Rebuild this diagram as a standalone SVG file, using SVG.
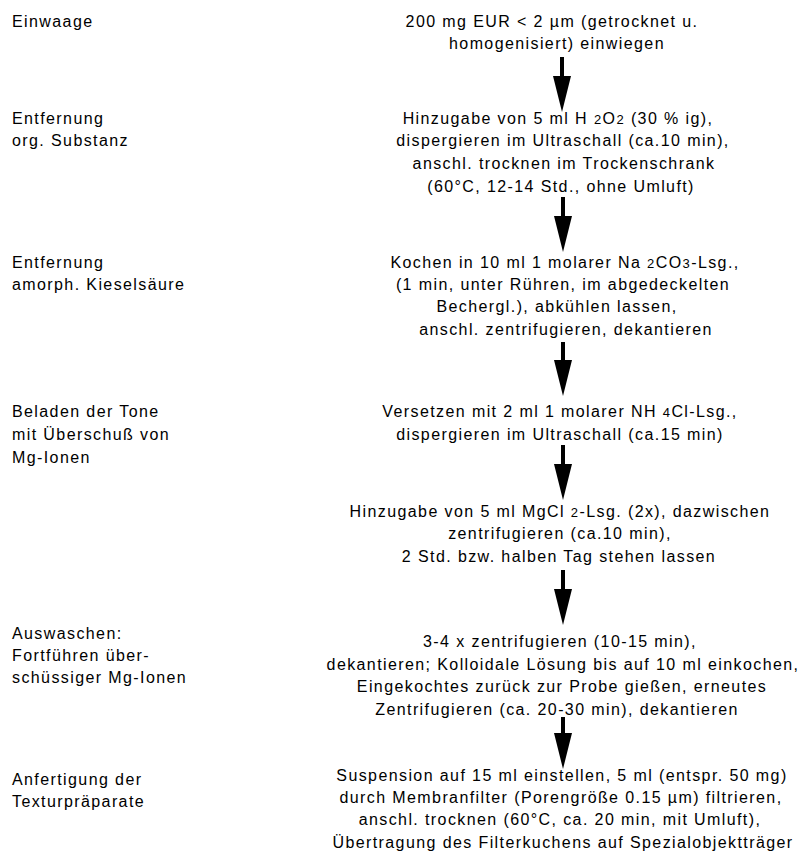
<svg xmlns="http://www.w3.org/2000/svg" width="802" height="858" viewBox="0 0 802 858">
<style>
text{font-family:"Liberation Sans",Arial,sans-serif;font-size:16px;fill:#000;letter-spacing:1.4px}
.c{text-anchor:middle}
.s{font-size:13px}
.arr{stroke:#000;stroke-width:4;fill:none}
</style>
<defs>
<marker id="head" markerUnits="userSpaceOnUse" viewBox="0 -10 40 20" refX="0" refY="0" markerWidth="40" markerHeight="20" orient="auto">
<path d="M0,-9 L36,0 L0,9 Z" fill="#000"/>
</marker>
</defs>
<rect width="802" height="858" fill="#fff"/>
<g id="labels">
<text x="12" y="27">Einwaage</text>
<text x="12" y="124">Entfernung</text>
<text x="12" y="146">org. Substanz</text>
<text x="12" y="268">Entfernung</text>
<text x="12" y="290">amorph. Kieselsäure</text>
<text x="12" y="417">Beladen der Tone</text>
<text x="12" y="440">mit Überschuß von</text>
<text x="12" y="463">Mg-Ionen</text>
<text x="12" y="639">Auswaschen:</text>
<text x="12" y="661">Fortführen über-</text>
<text x="12" y="683">schüssiger Mg-Ionen</text>
<text x="12" y="785">Anfertigung der</text>
<text x="12" y="807">Texturpräparate</text>
</g>
<g id="step1">
<text class="c" x="552" y="27">200 mg EUR &lt; 2 µm (getrocknet u.</text>
<text class="c" x="557" y="49">homogenisiert) einwiegen</text>
</g>
<g id="step2">
<text class="c" x="558" y="124">Hinzugabe von 5 ml H <tspan class="s">2</tspan>O<tspan class="s">2</tspan> (30 % ig),</text>
<text class="c" x="563" y="146">dispergieren im Ultraschall (ca.10 min),</text>
<text class="c" x="564" y="169">anschl. trocknen im Trockenschrank</text>
<text class="c" x="561" y="192">(60°C, 12-14 Std., ohne Umluft)</text>
</g>
<g id="step3">
<text class="c" x="565" y="268">Kochen in 10 ml 1 molarer Na <tspan class="s">2</tspan>CO<tspan class="s">3</tspan>-Lsg.,</text>
<text class="c" x="563" y="290">(1 min, unter Rühren, im abgedeckelten</text>
<text class="c" x="557" y="312">Bechergl.), abkühlen lassen,</text>
<text class="c" x="566" y="335">anschl. zentrifugieren, dekantieren</text>
</g>
<g id="step4">
<text class="c" x="560" y="417">Versetzen mit 2 ml 1 molarer NH <tspan class="s">4</tspan>Cl-Lsg.,</text>
<text class="c" x="560" y="440">dispergieren im Ultraschall (ca.15 min)</text>
</g>
<g id="step5">
<text class="c" x="560" y="517">Hinzugabe von 5 ml MgCl <tspan class="s">2</tspan>-Lsg. (2x), dazwischen</text>
<text class="c" x="560" y="539">zentrifugieren (ca.10 min),</text>
<text class="c" x="559" y="562">2 Std. bzw. halben Tag stehen lassen</text>
</g>
<g id="step6">
<text class="c" x="560" y="647">3-4 x zentrifugieren (10-15 min),</text>
<text class="c" x="563" y="670">dekantieren; Kolloidale Lösung bis auf 10 ml einkochen,</text>
<text class="c" x="562" y="692">Eingekochtes zurück zur Probe gießen, erneutes</text>
<text class="c" x="557" y="715">Zentrifugieren (ca. 20-30 min), dekantieren</text>
</g>
<g id="step7">
<text class="c" x="562" y="781">Suspension auf 15 ml einstellen, 5 ml (entspr. 50 mg)</text>
<text class="c" x="561" y="803">durch Membranfilter (Porengröße 0.15 µm) filtrieren,</text>
<text class="c" x="560" y="825">anschl. trocknen (60°C, ca. 20 min, mit Umluft),</text>
<text class="c" x="563" y="848">Übertragung des Filterkuchens auf Spezialobjektträger</text>
</g>
<g id="connectors">
<line class="arr" x1="562" y1="57" x2="562" y2="76" marker-end="url(#head)"/>
<line class="arr" x1="563" y1="197" x2="563" y2="216" marker-end="url(#head)"/>
<line class="arr" x1="563" y1="342" x2="563" y2="360" marker-end="url(#head)"/>
<line class="arr" x1="563" y1="445" x2="563" y2="464" marker-end="url(#head)"/>
<line class="arr" x1="563" y1="570" x2="563" y2="589" marker-end="url(#head)"/>
<line class="arr" x1="563" y1="717" x2="563" y2="733" marker-end="url(#head)"/>
</g>
</svg>
